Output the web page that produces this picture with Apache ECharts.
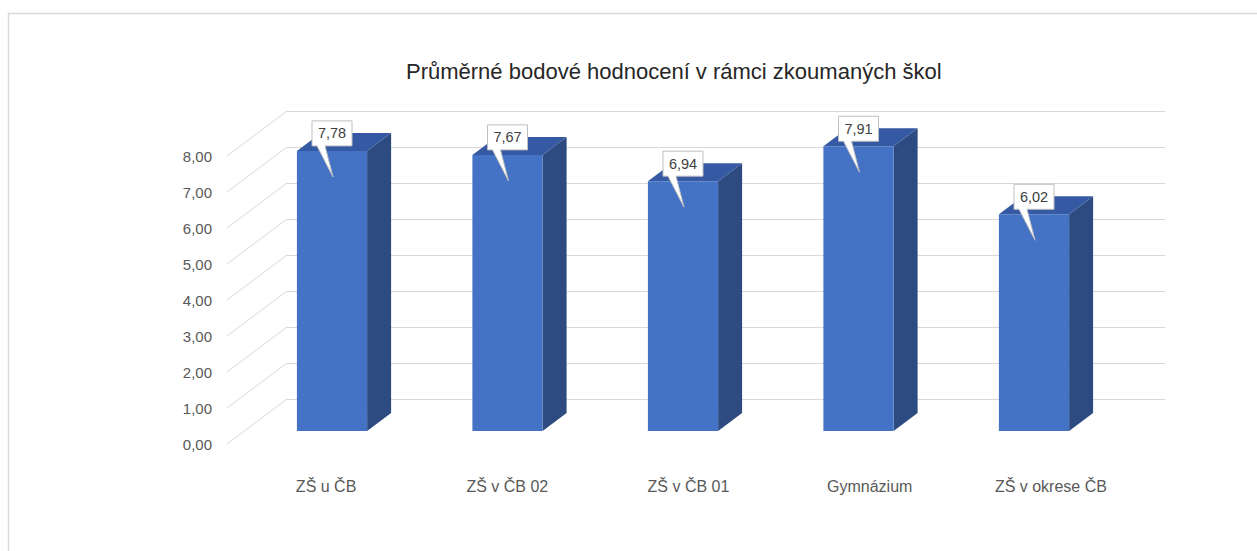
<!DOCTYPE html>
<html>
<head>
<meta charset="utf-8">
<style>
  html, body { margin: 0; padding: 0; background: #fff; }
  #chart { width: 1257px; height: 551px; }
</style>
<script src="https://cdn.jsdelivr.net/npm/echarts@6/dist/echarts.min.js"></script>
</head>
<body>
<div id="chart"></div>
<script>
var schools = ['ZŠ u ČB', 'ZŠ v ČB 02', 'ZŠ v ČB 01', 'Gymnázium', 'ZŠ v okrese ČB'];
var scores = [7.78, 7.67, 6.94, 7.91, 6.02];
var yTicks = [0, 1, 2, 3, 4, 5, 6, 7, 8];

var front = '#4472C4';
var side = '#2D4B80';
var topc = '#3559A2';
var rule = '#D9D9D9';
var muted = '#595959';
var depth = [24, -18];      // bar depth offset
var wallDepth = [-60, 45];  // back wall -> front floor edge

function fmt(v) { return v.toFixed(2).replace('.', ','); }

function renderBar(params, api) {
  var v = api.value(1);
  var base = api.coord([api.value(0), 0]);
  var top = api.coord([api.value(0), v]);
  var hw = api.size([1, 0])[0] * 0.2;
  var cx = base[0];
  var l = cx - hw, r = cx + hw;
  var dx = depth[0], dy = depth[1];
  var boxW = 40, boxH = 25;
  var bx0 = cx - boxW / 2, by1 = top[1] - 5, by0 = by1 - boxH;
  var tipY = top[1] + 26;
  return {
    type: 'group',
    children: [
      { type: 'polygon', shape: { points: [[r, top[1]], [r + dx, top[1] + dy], [r + dx, base[1] + dy], [r, base[1]]] }, style: { fill: side } },
      { type: 'polygon', shape: { points: [[l, top[1]], [l + dx, top[1] + dy], [r + dx, top[1] + dy], [r, top[1]]] }, style: { fill: topc } },
      { type: 'rect', shape: { x: l, y: top[1], width: r - l, height: base[1] - top[1] }, style: { fill: front } },
      { type: 'polygon', shape: { points: [[bx0, by0], [bx0 + boxW, by0], [bx0 + boxW, by1], [cx - 7, by1], [cx + 1, tipY], [cx - 15, by1], [bx0, by1]] },
        style: { fill: '#fff', stroke: '#BFBFBF', lineWidth: 1 } },
      { type: 'text', x: cx, y: (by0 + by1) / 2, style: { text: fmt(v), fill: '#404040', font: '14.5px "Liberation Sans"', align: 'center', verticalAlign: 'middle' } }
    ]
  };
}

function renderDiag(params, api) {
  var b = api.coord([0, api.value(0)]);
  return {
    type: 'line',
    shape: { x1: b[0], y1: b[1], x2: b[0] + wallDepth[0], y2: b[1] + wallDepth[1] },
    style: { stroke: rule, lineWidth: 1 }
  };
}

var chart = echarts.init(document.getElementById('chart'), null, { renderer: 'svg' });
chart.setOption({
  animation: false,
  title: {
    text: 'Průměrné bodové hodnocení v rámci zkoumaných škol',
    left: 401,
    top: 55,
    textStyle: { fontFamily: 'Liberation Sans', fontSize: 22, fontWeight: 'normal', color: '#262626' }
  },
  graphic: [{
    type: 'rect', shape: { x: 8.5, y: 13.5, width: 1300, height: 600 },
    style: { fill: 'none', stroke: rule, lineWidth: 1.5 }, z: -1
  }],
  grid: [
    { left: 244.25, width: 877.5, top: 143, height: 288 },   // bars (front plane)
    { left: 287, width: 878, top: 111, height: 288 },         // back wall
    { left: 226, width: 10, top: 156, height: 288 },          // y labels at front floor edge
    { left: 235.5, width: 906, top: 143, height: 288 }        // category labels
  ],
  xAxis: [
    { gridIndex: 0, type: 'category', data: schools, show: false },
    { gridIndex: 1, type: 'value', min: 0, max: 1, show: false },
    { gridIndex: 2, type: 'value', min: 0, max: 1, show: false },
    { gridIndex: 3, type: 'category', data: schools,
      axisLine: { show: false }, axisTick: { show: false },
      axisLabel: { margin: 47, color: muted, fontFamily: 'Liberation Sans', fontSize: 16 } }
  ],
  yAxis: [
    { gridIndex: 0, type: 'value', min: 0, max: 8, interval: 1, show: false },
    { gridIndex: 1, type: 'value', min: 0, max: 8, interval: 1,
      axisLine: { show: false }, axisTick: { show: false }, axisLabel: { show: false },
      splitLine: { lineStyle: { color: rule, width: 1 } } },
    { gridIndex: 2, type: 'value', min: 0, max: 8, interval: 1,
      axisLine: { show: false }, axisTick: { show: false }, splitLine: { show: false },
      axisLabel: { margin: 14, color: muted, fontFamily: 'Liberation Sans', fontSize: 15, formatter: function (v) { return fmt(v); } } },
    { gridIndex: 3, type: 'value', min: 0, max: 8, show: false }
  ],
  series: [
    {
      type: 'custom', xAxisIndex: 1, yAxisIndex: 1,
      renderItem: renderDiag,
      data: yTicks.map(function (t) { return [t]; }),
      encode: { y: 0 }, silent: true, z: 1
    },
    {
      type: 'custom', xAxisIndex: 0, yAxisIndex: 0,
      renderItem: renderBar,
      data: scores.map(function (s, i) { return [i, s]; }),
      encode: { x: 0, y: 1 }, z: 5
    }
  ]
});
window.addEventListener('resize', function () { chart.resize(); });
</script>
</body>
</html>
